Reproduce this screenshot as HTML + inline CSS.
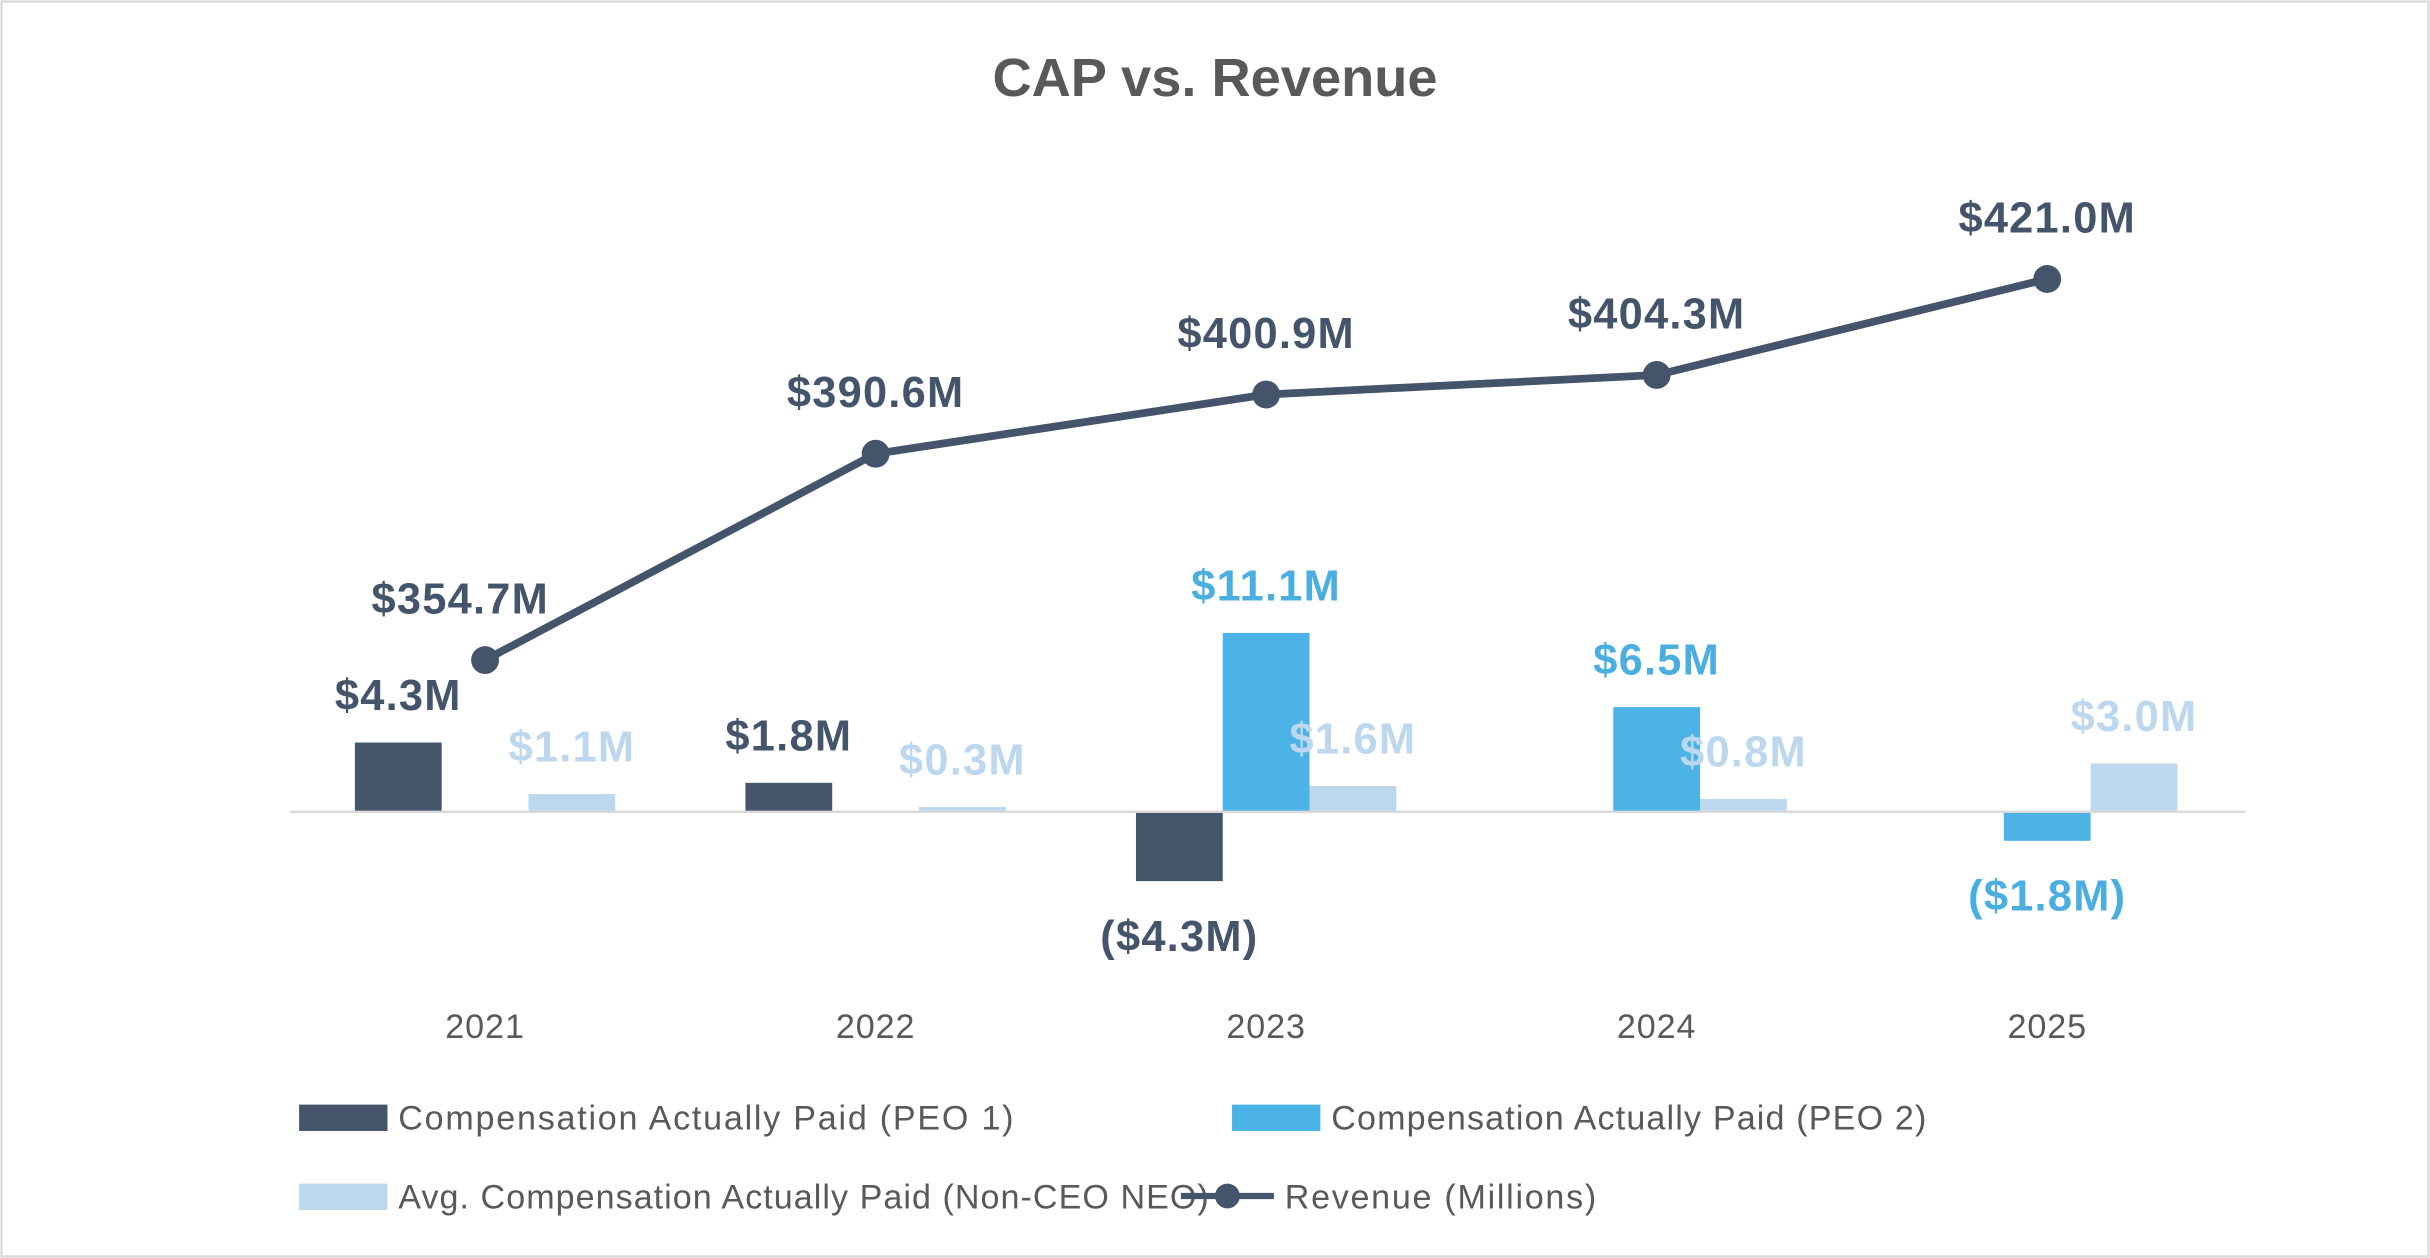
<!DOCTYPE html>
<html><head><meta charset="utf-8"><style>
html,body{margin:0;padding:0;background:#fff;}
svg{display:block;font-family:"Liberation Sans",Calibri,sans-serif;}
</style></head><body>
<svg id="chart" width="2430" height="1258" viewBox="0 0 1568 812" preserveAspectRatio="none" xmlns="http://www.w3.org/2000/svg">
<rect x="1" y="1" width="1566" height="810" fill="#fff" stroke="#d9d9d9" stroke-width="1.5"/>
<text x="784" y="62" text-anchor="middle" font-size="35" font-weight="bold" fill="#595959">CAP vs. Revenue</text>
<g id="bars"></g>
<line x1="187" y1="524" x2="1449" y2="524" stroke="#d9d9d9" stroke-width="1.5"/>
<g id="line"></g>
<g id="labels"></g>
<g font-size="22" fill="#595959">
<rect x="193" y="713" width="57" height="17" fill="#44546A"/>
<text x="257" y="729" textLength="397" lengthAdjust="spacing">Compensation Actually Paid (PEO 1)</text>
<rect x="795" y="713" width="57" height="17" fill="#4BB3E6"/>
<text x="859" y="729" textLength="384" lengthAdjust="spacing">Compensation Actually Paid (PEO 2)</text>
<rect x="193" y="764" width="57" height="17" fill="#BDD7EE"/>
<text x="257" y="780" textLength="523" lengthAdjust="spacing">Avg. Compensation Actually Paid (Non-CEO NEO)</text>
<line x1="762" y1="772" x2="822" y2="772" stroke="#44546A" stroke-width="4"/>
<circle cx="792" cy="772" r="8" fill="#44546A"/>
<text x="829" y="780" textLength="201" lengthAdjust="spacing">Revenue (Millions)</text>
</g>
</svg>
<script>
const years = ["2021","2022","2023","2024","2025"];
const peo1 = [4.3, 1.8, -4.3, null, null];
const peo2 = [null, null, 11.1, 6.5, -1.8];
const nonCeo = [1.1, 0.3, 1.6, 0.8, 3.0];
const revenue = [354.7, 390.6, 400.9, 404.3, 421.0];

const NS="http://www.w3.org/2000/svg";
const x0=313, step=252, zeroY=524, pxPerM=10.4, barW=56;
const xC=i=>x0+i*step;
const yBar=v=>zeroY-v*pxPerM;
const yRev=v=>zeroY-(v-328.3)*3.71;
function mk(tag,attrs,parent){const e=document.createElementNS(NS,tag);for(const k in attrs)e.setAttribute(k,attrs[k]);parent.appendChild(e);return e;}
const fmt=v=>v<0?"($"+Math.abs(v).toFixed(1)+"M)":"$"+v.toFixed(1)+"M";
const bars=document.getElementById('bars'), labels=document.getElementById('labels'), lineG=document.getElementById('line');
const series=[{d:peo1,off:-56,c:"#44546A",lc:"#44546A",n:"peo1"},{d:peo2,off:0,c:"#4BB3E6",lc:"#4BAEE0",n:"peo2"},{d:nonCeo,off:56,c:"#BDD7EE",lc:"#BDD7EE",n:"nonceo"}];
series.forEach(s=>{s.d.forEach((v,i)=>{if(v===null)return;
 const cx=xC(i)+s.off, y=yBar(v);
 const r=mk('rect',{x:cx-barW/2,y:Math.min(y,zeroY),width:barW,height:Math.abs(zeroY-y),fill:s.c},bars);
 
 
 const t=mk('text',{x:cx,y:v>=0?y-21:y+45,'text-anchor':'middle','font-size':28,'font-weight':'bold','letter-spacing':0.8,fill:s.lc},labels);
 t.textContent=fmt(v);
 
 
});});
const pts=revenue.map((v,i)=>xC(i)+","+yRev(v)).join(" ");
const pl=mk('polyline',{points:pts,fill:'none',stroke:'#44546A','stroke-width':5},lineG);


revenue.forEach((v,i)=>{
 const c=mk('circle',{cx:xC(i),cy:yRev(v),r:9,fill:'#44546A'},lineG);
 
 
 const t=mk('text',{x:xC(i)-(i===0?16:0),y:yRev(v)-30,'text-anchor':'middle','font-size':28,'font-weight':'bold','letter-spacing':0.8,fill:'#44546A'},labels);
 t.textContent=fmt(v);
 
 
});
years.forEach((y,i)=>{
 const t=mk('text',{x:xC(i),y:670,'text-anchor':'middle','font-size':22,'letter-spacing':0.6,fill:'#595959'},labels);
 t.textContent=y;
 
 
});
</script>
</body></html>
